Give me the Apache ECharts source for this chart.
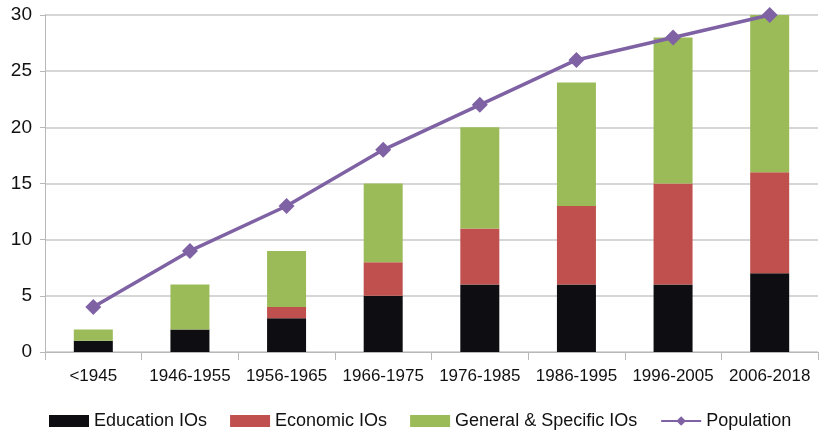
<!DOCTYPE html>
<html>
<head>
<meta charset="utf-8">
<script src="https://cdn.jsdelivr.net/npm/echarts@6/dist/echarts.min.js"></script>
<style>
  html, body { margin: 0; padding: 0; background: #fff; }
  #chart { width: 820px; height: 431px; }
</style>
</head>
<body>
<div id="chart"></div>
<script>
// periods on the x axis
const periods = ['<1945', '1946-1955', '1956-1965', '1966-1975', '1976-1985', '1986-1995', '1996-2005', '2006-2018'];
// stacked bar parts
const education = [1, 2, 3, 5, 6, 6, 6, 7];
const economic = [0, 0, 1, 3, 5, 7, 9, 9];
const general = [1, 4, 5, 7, 9, 11, 13, 14];
// line
const population = [4, 9, 13, 18, 22, 26, 28, 30];

const font = '"Liberation Sans", Arial, sans-serif';
const axisGray = '#b8b8b8';

let chart = echarts.init(document.getElementById('chart'));

const barSeries = (name, data, color) => ({
  name: name,
  type: 'bar',
  stack: 'ios',
  data: data,
  barWidth: 39,
  itemStyle: { color: color },
  emphasis: { disabled: true }
});

chart.setOption({
  animation: false,
  grid: { left: 45, right: 2, top: 15, bottom: 79, containLabel: false },
  legend: {
    top: 407,
    left: 44,
    itemWidth: 40,
    itemHeight: 12,
    itemGap: 23,
    textStyle: { fontFamily: font, fontSize: 18, color: '#111' },
    data: [
      { name: 'Education IOs', icon: 'rect' },
      { name: 'Economic IOs', icon: 'rect' },
      { name: 'General & Specific IOs', icon: 'rect' },
      { name: 'Population' }
    ]
  },
  xAxis: {
    type: 'category',
    data: periods,
    axisLine: { lineStyle: { color: axisGray, width: 1 } },
    axisTick: { show: true, length: 8, lineStyle: { color: axisGray } },
    axisLabel: { fontFamily: font, fontSize: 17, color: '#111', margin: 16, interval: 0 }
  },
  yAxis: {
    type: 'value',
    min: 0,
    max: 30,
    interval: 5,
    axisLine: { show: true, lineStyle: { color: axisGray, width: 1 } },
    axisTick: { show: true, length: 5, lineStyle: { color: axisGray } },
    axisLabel: { fontFamily: font, fontSize: 19, color: '#111', margin: 13 },
    splitLine: { lineStyle: { color: '#c8c8c8', width: 1.5 } }
  },
  series: [
    barSeries('Education IOs', education, '#0e0d12'),
    barSeries('Economic IOs', economic, '#c0504d'),
    barSeries('General & Specific IOs', general, '#9bbb59'),
    {
      name: 'Population',
      type: 'line',
      data: population,
      symbol: 'diamond',
      symbolSize: 16,
      lineStyle: { color: '#7f62a4', width: 3.5 },
      itemStyle: { color: '#7f62a4' },
      z: 5
    }
  ]
});
</script>
</body>
</html>
